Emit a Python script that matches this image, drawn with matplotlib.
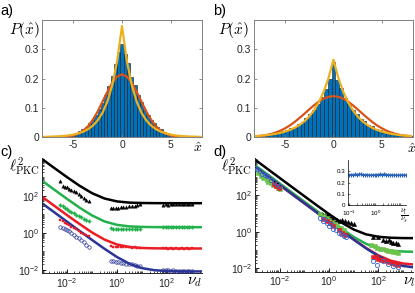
import numpy as np
import matplotlib
matplotlib.use('Agg')
import matplotlib.pyplot as plt
from matplotlib.ticker import FixedLocator, LogLocator, NullFormatter

plt.rcParams['font.family'] = ['Liberation Sans', 'DejaVu Sans']
plt.rcParams['mathtext.fontset'] = 'cm'
plt.rcParams['axes.unicode_minus'] = False

# ---- panel a / b : histograms of x-hat with gaussian (orange) and laplace (yellow) fits
bins_a = np.linspace(-8, 8, 49)
hist_a = [0.0005, 0.0007, 0.001, 0.0015, 0.002, 0.003, 0.004, 0.006, 0.008, 0.011, 0.015, 0.020,
          0.027, 0.036, 0.047, 0.060, 0.076, 0.095, 0.118, 0.145, 0.175, 0.210, 0.250, 0.290,
          0.320,
          0.285, 0.252, 0.207, 0.178, 0.143, 0.120, 0.093, 0.077, 0.059, 0.048, 0.035, 0.028,
          0.019, 0.015, 0.010, 0.008, 0.005, 0.004, 0.003, 0.002, 0.0014, 0.001, 0.0007, 0.0005]
bins_b = np.linspace(-8, 8, 41)
hist_b = [0.004, 0.005, 0.0065, 0.008, 0.010, 0.013, 0.016, 0.020, 0.024, 0.030, 0.036, 0.044,
          0.053, 0.064, 0.078, 0.094, 0.113, 0.137, 0.165, 0.200,
          0.258,
          0.195, 0.168, 0.135, 0.115, 0.092, 0.079, 0.063, 0.054, 0.043, 0.037, 0.029, 0.025,
          0.019, 0.016, 0.012, 0.010, 0.008, 0.006, 0.005, 0.004]

fit_x = np.linspace(-8, 8, 33)
gauss_a = [0.0, 0.0001, 0.0002, 0.0005, 0.0012, 0.0027, 0.0058, 0.0115, 0.0213, 0.0366, 0.0586,
           0.087, 0.121, 0.155, 0.186, 0.207, 0.215, 0.207, 0.186, 0.155, 0.121, 0.087, 0.0586,
           0.0366, 0.0213, 0.0115, 0.0058, 0.0027, 0.0012, 0.0005, 0.0002, 0.0001, 0.0]
lap_a = [0.0009, 0.0013, 0.0019, 0.0027, 0.004, 0.0058, 0.0085, 0.0124, 0.0182, 0.0266, 0.0389,
         0.0568, 0.083, 0.1216, 0.178, 0.26, 0.38, 0.26, 0.178, 0.1216, 0.083, 0.0568, 0.0389,
         0.0266, 0.0182, 0.0124, 0.0085, 0.0058, 0.004, 0.0027, 0.0019, 0.0013, 0.0009]
gauss_b = [0.0027, 0.0043, 0.0068, 0.0103, 0.0152, 0.0216, 0.030, 0.040, 0.052, 0.0657, 0.080,
           0.095, 0.109, 0.122, 0.1316, 0.138, 0.14, 0.138, 0.1316, 0.122, 0.109, 0.095, 0.080,
           0.0657, 0.052, 0.040, 0.030, 0.0216, 0.0152, 0.0103, 0.0068, 0.0043, 0.0027]
lap_b = [0.0039, 0.005, 0.0065, 0.0085, 0.0111, 0.0144, 0.0188, 0.0245, 0.0319, 0.0416, 0.054,
         0.0706, 0.092, 0.120, 0.156, 0.203, 0.265, 0.203, 0.156, 0.120, 0.092, 0.0706, 0.054,
         0.0416, 0.0319, 0.0245, 0.0188, 0.0144, 0.0111, 0.0085, 0.0065, 0.005, 0.0039]

# ---- panel c / d : l^2_PKC vs nu, theory curves
nu_curve = [1e-3, 3.16e-3, 1e-2, 3.16e-2, 0.1, 0.316, 1, 3.16, 10, 31.6, 100, 316, 1000, 3162]
c_black = [10040, 3200, 1040, 356, 140, 72, 50, 43, 41, 40.3, 40.1, 40, 40, 40]
c_green = [672, 214, 69, 23.2, 8.7, 4.1, 2.67, 2.21, 2.07, 2.02, 2.007, 2.002, 2.0, 2.0]
c_red = [90, 28.6, 9.1, 3.0, 1.04, 0.425, 0.23, 0.168, 0.149, 0.143, 0.141, 0.14, 0.14, 0.14]
c_blue = [40, 12.7, 4.0, 1.27, 0.408, 0.135, 0.048, 0.0207, 0.012, 0.0093, 0.0084, 0.0081, 0.008, 0.008]

d_black = [9000, 2846, 900, 285, 90.5, 28.9, 9.45, 3.30, 1.35, 0.735, 0.54, 0.478, 0.459, 0.453]
d_green = [4500, 1423, 450, 142, 45.1, 14.3, 4.58, 1.50, 0.53, 0.222, 0.125, 0.094, 0.0845, 0.0814]
d_red = [3700, 1170, 370, 117, 37, 11.7, 3.72, 1.185, 0.385, 0.132, 0.052, 0.0267, 0.0187, 0.0162]
d_blue = [3700, 1170, 370, 117, 37, 11.7, 3.71, 1.18, 0.38, 0.127, 0.047, 0.0217, 0.0137, 0.0112]

# ---- panel c measurements (three nu_d groups)
nu_c = [0.0055, 0.007, 0.0085, 0.01, 0.012, 0.015, 0.019, 0.024, 0.03, 0.038, 0.048, 0.06, 0.075,
        0.55, 0.7, 0.9, 1.1, 1.4, 1.8, 2.3, 3, 4, 5, 6.5, 8,
        70, 90, 110, 140, 180, 230, 300, 380, 480, 600, 750, 950]
c_black_pts = [680, 360, 320, 290, 240, 210, 190, 160, 120, 100, 75, 60, 50,
               22, 21, 23, 22, 24, 25, 24, 27, 28, 30, 33, 35,
               34, 36, 33, 37, 35, 38, 36, 37, 35, 38, 36, 37]
c_green_pts = [32, 27, 23, 19, 16, 13.5, 11.5, 9.5, 8, 6.8, 5.8, 5, 4.5,
               1.7, 1.6, 1.65, 1.55, 1.6, 1.5, 1.6, 1.55, 1.5, 1.55, 1.5, 1.5,
               2.0, 2.1, 1.95, 2.05, 2.0, 1.95, 2.05, 2.0, 1.95, 2.0, 2.05, 2.0]
c_red_pts = [5, 4.2, 3.5, 3, 2.5, 2.1, 1.8, 1.5, 1.2, 1.0, 0.85, 0.72, 0.63,
             0.18, 0.17, 0.175, 0.165, 0.17, 0.16, 0.165, 0.16, 0.158, 0.16, 0.155, 0.157,
             0.14, 0.142, 0.139, 0.141, 0.138, 0.14, 0.139, 0.141, 0.138, 0.14, 0.139, 0.14]
c_blue_pts = [2.1, 1.8, 1.6, 1.4, 1.2, 1.0, 0.8, 0.6, 0.5, 0.4, 0.3, 0.22, 0.17,
              0.03, 0.028, 0.027, 0.025, 0.024, 0.022, 0.021, 0.02, 0.019, 0.018, 0.016, 0.015,
              0.0095, 0.009, 0.0092, 0.0088, 0.009, 0.0087, 0.0089, 0.0086, 0.0088, 0.0085, 0.0087, 0.0086]

# ---- panel d measurements
d_black_nu = [0.006, 0.007, 0.0085, 0.5, 0.6, 0.7, 0.8, 0.9, 1.0, 1.2, 1.5, 2.2, 2.8, 3.5, 4.5, 6, 8, 10,
              60, 100, 150, 200, 260, 320, 400, 500, 650]
d_black_pts = [500, 447, 398, 10, 8.9, 7.9, 8.3, 7.1, 6.3, 5.6, 5.0, 4.5, 4.0, 4.2, 3.8, 3.5, 3.2, 2.8,
               0.55, 0.5, 0.35, 0.32, 0.35, 0.28, 0.25, 0.24, 0.22]
d_green_nu = [0.0013, 0.0018, 0.0022, 0.003, 0.0035, 0.0045, 0.0055, 0.007, 0.0085, 0.01,
              0.45, 0.55, 0.65, 0.8, 1.0, 1.3, 1.7, 2.2, 3.0, 4.0,
              50, 70, 90, 120, 150, 200, 250, 320, 400, 500, 650]
d_green_pts = [1600, 1100, 900, 700, 500, 450, 350, 330, 260, 230,
               9, 7.5, 6.5, 5.5, 4.5, 3.5, 2.7, 2.2, 1.7, 1.3,
               0.2, 0.16, 0.14, 0.12, 0.11, 0.1, 0.095, 0.085, 0.08, 0.075, 0.07]
d_red_nu = [0.006, 0.0075, 0.0095, 0.6, 0.8, 1.1, 1.5, 2.5, 3.5, 4.5,
            60, 80, 100, 130, 170, 220, 280, 350, 450, 600]
d_red_pts = [400, 320, 260, 5, 4, 3, 2.2, 1.3, 0.9, 0.7,
             0.045, 0.04, 0.035, 0.03, 0.028, 0.025, 0.022, 0.02, 0.018, 0.016]
d_blue_nu = [0.001, 0.0012, 0.0016, 0.002, 0.0025, 0.003, 0.0045, 0.006, 0.008, 0.0095,
             0.45, 0.55, 0.7, 0.85, 1.0, 1.2, 1.5, 2.0, 2.5, 3.2, 4.0, 5.0,
             60, 90, 150, 250, 400, 600]
d_blue_pts = [3000, 2600, 2000, 1500, 1300, 1100, 700, 500, 400, 330,
              6, 4, 5, 3, 2.2, 2.6, 1.5, 1.2, 0.9, 0.8, 0.6, 0.5,
              0.026, 0.016, 0.025, 0.018, 0.014, 0.012]

# ---- inset of d
ratio = [0.1, 0.12, 0.14, 0.17, 0.2, 0.24, 0.28, 0.33, 0.4, 0.48, 0.56, 0.67, 0.8, 0.95, 1.1, 1.3,
         1.6, 1.9, 2.2, 2.7, 3.2, 3.8, 4.5, 5.4, 6.4, 7.6, 9, 11, 13, 15]
ratio_val = [0.265, 0.27, 0.268, 0.272, 0.27, 0.275, 0.272, 0.27, 0.268, 0.27, 0.266, 0.265, 0.267,
             0.266, 0.268, 0.27, 0.272, 0.27, 0.274, 0.271, 0.268, 0.266, 0.267, 0.265, 0.266,
             0.264, 0.265, 0.267, 0.265, 0.266]

BLUE = '#0072BD'
ORANGE = '#D95319'
YELLOW = '#EDB120'
C_BLACK = '#000000'
C_GREEN = '#22b14c'
C_RED = '#ec1c24'
C_BLUE = '#2b3596'
GRAY = '#808080'


def hist_panel(ax, centers, heights, width, gauss, lap):
    ax.bar(centers, heights, width=width, color=BLUE, edgecolor='#1a1a1a', linewidth=0.4)
    ax.plot(fit_x, gauss, color=ORANGE, lw=1.6)
    ax.plot(fit_x, lap, color=YELLOW, lw=1.6)
    ax.set_xlim(-8.2, 8.2)
    ax.set_ylim(0, 0.4)
    ax.set_xticks([-5, 0, 5])
    ax.set_xticklabels(['-5', '0', '5'])
    ax.set_yticks([0, 0.1, 0.2, 0.3])
    ax.set_yticklabels(['0', '0.1', '0.2', '0.3'])
    ax.tick_params(direction='in', top=True, right=True, length=2.5, width=0.6,
                   color=GRAY, labelcolor='#262626', labelsize=7.5, pad=2)
    for s in ax.spines.values():
        s.set_color(GRAY)
        s.set_linewidth(0.7)


def log_panel(ax):
    ax.set_xscale('log')
    ax.set_yscale('log')
    ax.set_xlim(1e-3, 2.5e3)
    ax.set_ylim(6.5e-3, 1.1e4)
    for axis in (ax.xaxis, ax.yaxis):
        axis.set_major_locator(FixedLocator([1e-2, 1, 1e2]))
        axis.set_minor_locator(LogLocator(base=10, subs=np.arange(1, 10), numticks=50))
        axis.set_minor_formatter(NullFormatter())
    ax.spines['top'].set_visible(False)
    ax.spines['right'].set_visible(False)
    for s in ('left', 'bottom'):
        ax.spines[s].set_color('#262626')
        ax.spines[s].set_linewidth(0.7)
    ax.tick_params(which='major', direction='in', length=3, width=0.6, labelsize=7.5,
                   labelcolor='#262626', pad=2)
    ax.tick_params(which='minor', direction='in', length=1.5, width=0.5)


fig = plt.figure(figsize=(4.15, 2.93), dpi=100)
ax_a = fig.add_axes([0.101, 0.532, 0.386, 0.399])
ax_b = fig.add_axes([0.612, 0.532, 0.383, 0.399])
ax_c = fig.add_axes([0.101, 0.068, 0.386, 0.392])
ax_d = fig.add_axes([0.614, 0.072, 0.381, 0.389])

hist_panel(ax_a, bins_a, hist_a, 16 / 48, gauss_a, lap_a)
hist_panel(ax_b, bins_b, hist_b, 16 / 40, gauss_b, lap_b)
for ax, xo in ((ax_a, -0.106), (ax_b, -0.13)):
    ax.text(xo, 0.915, r'$P(\hat{x})$', transform=ax.transAxes, ha='center', va='center', fontsize=11)
ax_a.text(0.97, -0.095, r'$\hat{x}$', transform=ax_a.transAxes, ha='center', va='center', fontsize=10)
ax_b.text(0.99, -0.1, r'$\hat{x}$', transform=ax_b.transAxes, ha='center', va='center', fontsize=10)

# c
log_panel(ax_c)
for curve, col in ((c_black, C_BLACK), (c_green, C_GREEN), (c_red, C_RED), (c_blue, C_BLUE)):
    ax_c.plot(nu_curve, curve, color=col, lw=1.8, zorder=2)
ax_c.plot(nu_c, c_black_pts, '^', color=C_BLACK, ms=2.4, mew=0.3, zorder=3)
ax_c.plot(nu_c, c_green_pts, 'P', color=C_GREEN, ms=2.4, mew=0.3, zorder=3)
ax_c.plot(nu_c, c_red_pts, 's', color=C_RED, ms=2.0, mew=0.3, zorder=3)
ax_c.plot(nu_c, c_blue_pts, 'o', mfc='none', mec=C_BLUE, ms=2.5, mew=0.5, zorder=3)
ax_c.text(-0.106, 0.92, r'$\ell^2_{\rm PKC}$', transform=ax_c.transAxes, ha='center', va='center', fontsize=11)
ax_c.text(0.95, -0.078, r'$\nu_d$', transform=ax_c.transAxes, ha='center', va='center', fontsize=11)

# d
log_panel(ax_d)
for curve, col in ((d_black, C_BLACK), (d_green, C_GREEN), (d_red, C_RED), (d_blue, C_BLUE)):
    ax_d.plot(nu_curve, curve, color=col, lw=1.8, zorder=2)
ax_d.plot(d_black_nu, d_black_pts, '^', color=C_BLACK, ms=3, mew=0.4, zorder=3)
ax_d.plot(d_green_nu, d_green_pts, 's', color='#6cc24a', ms=3, mew=0.4, zorder=3)
ax_d.plot(d_red_nu, d_red_pts, 's', color=C_RED, ms=2.5, mew=0.4, zorder=3)
ax_d.plot(d_blue_nu, d_blue_pts, 'o', mfc='none', mec='#3366cc', ms=3, mew=0.6, zorder=3)
ax_d.text(-0.114, 0.92, r'$\ell^2_{\rm PKC}$', transform=ax_d.transAxes, ha='center', va='center', fontsize=11)
ax_d.text(0.975, -0.088, r'$\nu_l$', transform=ax_d.transAxes, ha='center', va='center', fontsize=11)

# inset
ax_in = fig.add_axes([0.839, 0.30, 0.140, 0.154])
ax_in.plot(ratio, ratio_val, '+-', color='#2a62b8', lw=1.2, ms=3, mew=0.8)
ax_in.set_xscale('log')
ax_in.set_xlim(0.09, 16)
ax_in.set_ylim(0, 0.4)
ax_in.set_yticks([0, 0.1, 0.2, 0.3])
ax_in.set_yticklabels(['0', '0.1', '0.2', '0.3'])
ax_in.xaxis.set_major_locator(FixedLocator([0.1, 1]))
ax_in.xaxis.set_minor_locator(LogLocator(base=10, subs=np.arange(2, 10), numticks=20))
ax_in.xaxis.set_minor_formatter(NullFormatter())
ax_in.spines['top'].set_visible(False)
ax_in.spines['right'].set_visible(False)
for s in ('left', 'bottom'):
    ax_in.spines[s].set_linewidth(0.5)
ax_in.tick_params(which='both', direction='in', length=1.5, width=0.4, labelsize=4.5)
ax_in.tick_params(axis='x', pad=2.5)
ax_in.tick_params(axis='y', pad=2)
ax_in.text(0.97, -0.24, r'$\frac{\nu_l}{\nu_s}$', transform=ax_in.transAxes, ha='center', va='center', fontsize=8)

# panel letters
for lbl, x, y in (('a)', 0.0, 0.985), ('b)', 0.513, 0.985), ('c)', 0.0, 0.505), ('d)', 0.513, 0.505)):
    fig.text(x, y, lbl, ha='left', va='top', fontsize=10.5)

fig.savefig('out.png', dpi=100)
